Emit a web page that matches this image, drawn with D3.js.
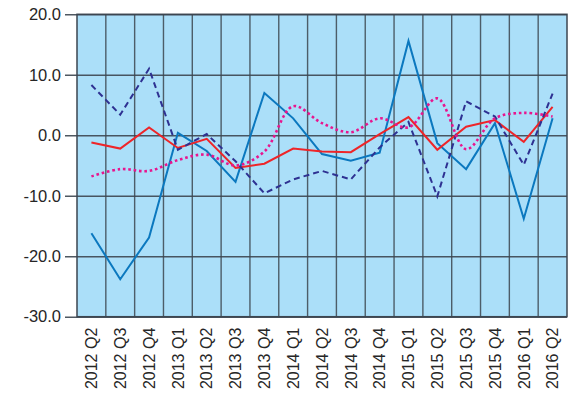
<!DOCTYPE html>
<html>
<head>
<meta charset="utf-8">
<script src="https://cdn.jsdelivr.net/npm/d3@7"></script>
<style>
  body { margin: 0; background: #fff; }
  svg text { font-family: "Liberation Sans", Arial, sans-serif; fill: #262626; }
</style>
</head>
<body>
<div id="chart"></div>
<script>
// quarters on the x axis
const quarters = ["2012 Q2", "2012 Q3", "2012 Q4", "2013 Q1", "2013 Q2", "2013 Q3", "2013 Q4",
  "2014 Q1", "2014 Q2", "2014 Q3", "2014 Q4", "2015 Q1", "2015 Q2", "2015 Q3", "2015 Q4",
  "2016 Q1", "2016 Q2"];

// series values
const blueSolid = [-16.2, -23.8, -16.9, 0.4, -2.6, -7.7, 7.0, 2.8, -3.1, -4.2, -2.9, 15.6, -1.3, -5.6, 2.0, -13.8, 2.8];
const redSolid = [-1.2, -2.2, 1.3, -2.1, -0.6, -5.4, -4.7, -2.2, -2.7, -2.8, 0.2, 3.0, -2.4, 1.4, 2.5, -1.1, 4.7];
const navyDashed = [8.3, 3.4, 11.0, -2.4, 0.2, -4.3, -9.6, -7.3, -5.9, -7.3, -2.0, 2.2, -10.1, 5.6, 3.1, -4.9, 6.9];
const pinkDotted = [-6.8, -5.6, -5.9, -4.1, -3.2, -5.0, -2.7, 4.8, 2.0, 0.5, 2.8, 1.3, 6.1, -2.3, 2.8, 3.7, 3.1];

const yTicks = [-30, -20, -10, 0, 10, 20];

var width = 587, height = 402;
var margin = {top: 14.3, right: 20, bottom: 85.3, left: 77};
var plot_w = width - margin.left - margin.right,
    plot_h = height - margin.top - margin.bottom;

var svg = d3.select("#chart").append("svg")
  .attr("width", width)
  .attr("height", height);

var g = svg.append("g")
  .attr("transform", "translate(" + margin.left + "," + margin.top + ")");

var x = d3.scaleBand().domain(quarters).range([0, plot_w]);
var y = d3.scaleLinear().domain([-30, 20]).range([plot_h, 0]);

// background of the plot
g.append("rect")
  .attr("width", plot_w)
  .attr("height", plot_h)
  .attr("fill", "#abdff9");

var gridColor = "#3c4650";

// vertical lines between the quarters
g.selectAll(".vgrid")
  .data(quarters.slice(1))
  .enter().append("line")
  .attr("class", "vgrid")
  .attr("x1", function(d) { return x(d); })
  .attr("x2", function(d) { return x(d); })
  .attr("y1", 0)
  .attr("y2", plot_h)
  .attr("stroke", gridColor)
  .attr("stroke-opacity", 0.85)
  .attr("stroke-width", 1.4);

// y axis with gridlines
var yAxis = g.append("g")
  .call(d3.axisLeft(y).tickValues(yTicks).tickSize(-plot_w).tickPadding(16)
    .tickFormat(d3.format(".1f")));
yAxis.select(".domain").remove();
yAxis.selectAll(".tick line")
  .attr("x1", -12)
  .attr("stroke", gridColor)
  .attr("stroke-opacity", 0.9)
  .attr("stroke-width", 1.4);
yAxis.selectAll(".tick text")
  .attr("font-size", "16.5px")
  .attr("fill", "#262626")
  .text(function(d) { return d3.format(".1f")(d).replace("−", "-"); });

// plot border
g.append("rect")
  .attr("width", plot_w)
  .attr("height", plot_h)
  .attr("fill", "none")
  .attr("stroke", gridColor)
  .attr("stroke-width", 1.5);

// x labels, rotated
var xAxis = g.append("g")
  .attr("transform", "translate(0," + plot_h + ")")
  .call(d3.axisBottom(x).tickSize(0).tickPadding(0));
xAxis.select(".domain").remove();
xAxis.selectAll(".tick text")
  .attr("font-size", "16px")
  .attr("fill", "#262626")
  .attr("text-anchor", "end")
  .attr("transform", "rotate(-90)")
  .attr("x", -11)
  .attr("y", 0)
  .attr("dy", "0.36em");

function drawLine(values, color, dash, w, curve) {
  var line = d3.line()
    .x(function(d, i) { return x(quarters[i]) + x.bandwidth() / 2; })
    .y(function(d) { return y(d); })
    .curve(curve || d3.curveLinear);
  g.append("path")
    .datum(values)
    .attr("d", line)
    .attr("fill", "none")
    .attr("stroke", color)
    .attr("stroke-width", w)
    .attr("stroke-dasharray", dash)
    .attr("stroke-linejoin", "miter");
}

drawLine(blueSolid, "#0b78bf", null, 2);
drawLine(redSolid, "#ee2529", null, 2);
drawLine(navyDashed, "#2e3192", "6,4", 2);
drawLine(pinkDotted, "#e8158e", "2.6,2.8", 2.6, d3.curveCatmullRom.alpha(0.5));
</script>
</body>
</html>
